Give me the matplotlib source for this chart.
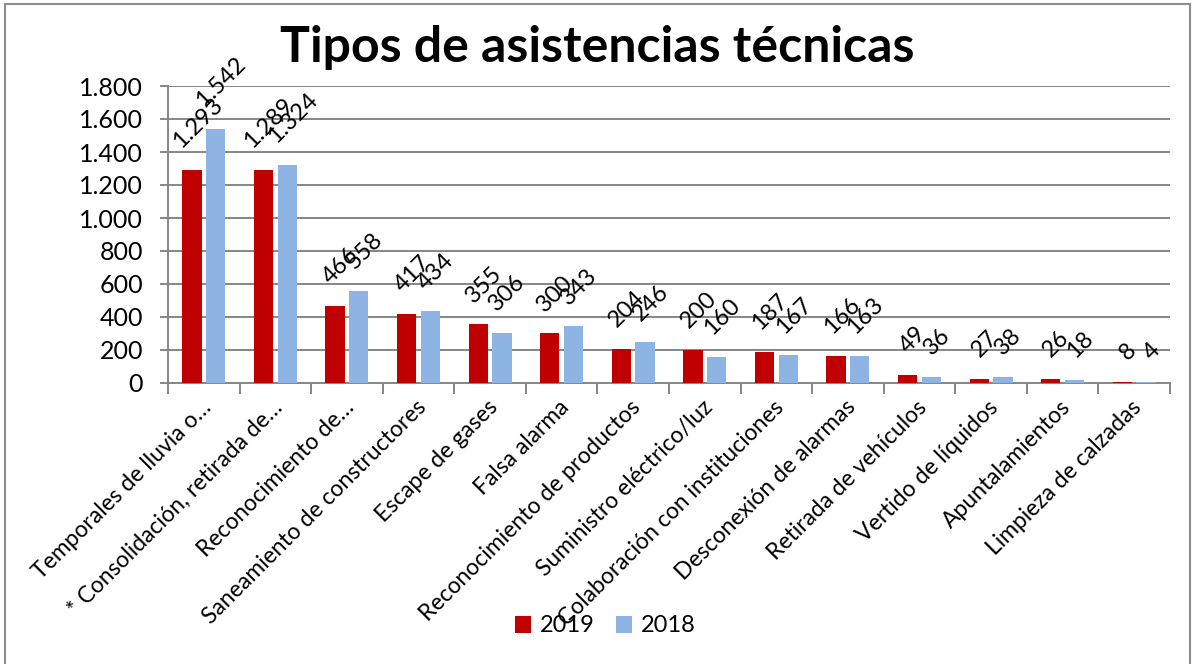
import matplotlib
matplotlib.use('Agg')
import matplotlib.pyplot as plt
from matplotlib.patches import Rectangle
import numpy as np

categorias = ['Temporales de lluvia o…', '* Consolidación, retirada de…', 'Reconocimiento de…',
              'Saneamiento de constructores', 'Escape de gases', 'Falsa alarma',
              'Reconocimiento de productos', 'Suministro eléctrico/luz',
              'Colaboración con instituciones', 'Desconexión de alarmas',
              'Retirada de vehículos', 'Vertido de líquidos', 'Apuntalamientos',
              'Limpieza de calzadas']
v2019 = [1293, 1289, 466, 417, 355, 300, 204, 200, 187, 166, 49, 27, 26, 8]
v2018 = [1542, 1324, 558, 434, 306, 343, 246, 160, 167, 163, 36, 38, 18, 4]
yticks = [0, 200, 400, 600, 800, 1000, 1200, 1400, 1600, 1800]
ytick_labels = ['0', '200', '400', '600', '800', '1.000', '1.200', '1.400', '1.600', '1.800']

plt.rcParams['font.family'] = ['Lato', 'DejaVu Sans']

fig = plt.figure(figsize=(11.95, 6.64), dpi=100)
ax = fig.add_axes([168 / 1195, 1 - 383 / 664, (1170 - 168) / 1195, (383 - 86) / 664])

x = np.arange(len(categorias))
w = 0.27
b1 = ax.bar(x - 0.165, v2019, w, color='#C00000', label='2019', zorder=3)
b2 = ax.bar(x + 0.165, v2018, w, color='#8EB4E3', label='2018', zorder=3)


def fmt(v):
    return f'{v:,}'.replace(',', '.')


for bars, vals in ((b1, v2019), (b2, v2018)):
    for r, v in zip(bars, vals):
        ax.annotate(fmt(v), (r.get_x() + r.get_width() / 2, r.get_height()),
                    xytext=(4, 13), textcoords='offset points', ha='center', va='bottom',
                    rotation=45, fontsize=17, zorder=4, annotation_clip=False)

ax.set_xlim(-0.5, len(categorias) - 0.5)
ax.set_ylim(0, 1800)
ax.set_yticks(yticks)
ax.set_yticklabels(ytick_labels, fontsize=18)
ax.yaxis.grid(True, color='#868686', lw=1.4, zorder=0)
ax.set_axisbelow(True)

ax.set_xticks(np.arange(len(categorias) + 1) - 0.5)
ax.set_xticklabels([])
ax.tick_params(axis='x', length=8, width=1.4, color='#868686', direction='out')
ax.tick_params(axis='y', length=6, width=1.4, color='#868686', direction='out', pad=12)
for i, c in enumerate(categorias):
    ax.annotate(c, (i, 0), xytext=(3, -15), textcoords='offset points',
                ha='right', va='center', rotation=45, rotation_mode='anchor',
                fontsize=16.5, annotation_clip=False)

for s in ('top', 'right'):
    ax.spines[s].set_visible(False)
for s in ('left', 'bottom'):
    ax.spines[s].set_color('#868686')
    ax.spines[s].set_linewidth(1.4)

fig.text(597 / 1195, 1 - 48 / 664, 'Tipos de asistencias técnicas', ha='center', va='center',
         fontsize=36, fontweight='bold')

ax.legend(loc='center', bbox_to_anchor=(605 / 1195, 1 - 626 / 664), bbox_transform=fig.transFigure,
          ncol=2, frameon=False, fontsize=17, handlelength=0.7, handleheight=0.7,
          handletextpad=0.35, columnspacing=0.9)

fig.patches.append(Rectangle((5 / 1195, -0.05), 1185 / 1195, 1.05 - 4 / 664, transform=fig.transFigure,
                             fill=False, edgecolor='#8c8c8c', lw=1.5))

fig.savefig('out.png', dpi=100)
